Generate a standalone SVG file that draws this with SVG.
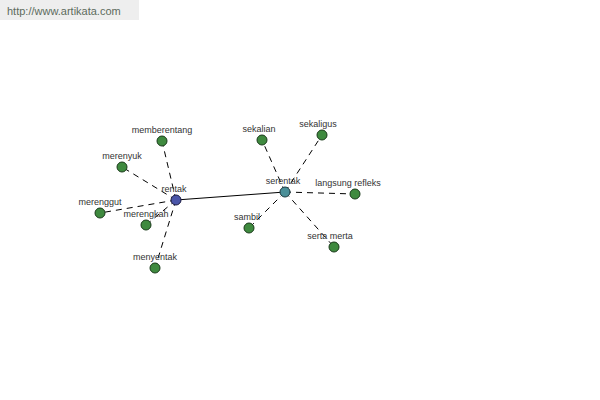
<svg xmlns="http://www.w3.org/2000/svg" width="600" height="400" viewBox="0 0 600 400">
<style>
text{font-family:"Liberation Sans",Arial,sans-serif;font-size:9px;fill:#333;text-anchor:middle}
.n{fill:#3f8a3f;stroke:#1a3a1a;stroke-width:1}
.d{stroke:#000;stroke-width:1;stroke-dasharray:6,5;fill:none}
</style>
<rect width="600" height="400" fill="#fff"/>
<rect x="0" y="0" width="139" height="20" fill="#eeeeee"/>
<text x="7" y="15" style="text-anchor:start;font-size:11px;fill:#5d6b5d">http://www.artikata.com</text>
<g id="connectors">
<line class="d" x1="176" y1="200" x2="162" y2="141"/>
<line class="d" x1="176" y1="200" x2="122" y2="167"/>
<line class="d" x1="176" y1="200" x2="100" y2="213"/>
<line class="d" x1="176" y1="200" x2="146" y2="225"/>
<line class="d" x1="176" y1="200" x2="155" y2="268"/>
<line x1="176" y1="200" x2="285" y2="192" stroke="#000" stroke-width="1"/>
<line class="d" x1="285" y1="192" x2="262" y2="140"/>
<line class="d" x1="285" y1="192" x2="322" y2="135"/>
<line class="d" x1="285" y1="192" x2="355" y2="194"/>
<line class="d" x1="285" y1="192" x2="334" y2="247"/>
<line class="d" x1="285" y1="192" x2="249" y2="228"/>
</g>
<g id="memberentang"><circle class="n" cx="162" cy="141" r="5"/><text x="162" y="133">memberentang</text></g>
<g id="merenyuk"><circle class="n" cx="122" cy="167" r="5"/><text x="122" y="159">merenyuk</text></g>
<g id="merenggut"><circle class="n" cx="100" cy="213" r="5"/><text x="100" y="205">merenggut</text></g>
<g id="merengkah"><circle class="n" cx="146" cy="225" r="5"/><text x="146" y="217">merengkah</text></g>
<g id="menyentak"><circle class="n" cx="155" cy="268" r="5"/><text x="155" y="260">menyentak</text></g>
<g id="rentak"><circle cx="176" cy="200" r="5" fill="#4a55a8" stroke="#1a1a40"/><text x="174" y="192">rentak</text></g>
<g id="serentak"><circle cx="285" cy="192" r="5" fill="#4a8f98" stroke="#1a3a40"/><text x="283" y="184">serentak</text></g>
<g id="sekalian"><circle class="n" cx="262" cy="140" r="5"/><text x="259" y="132">sekalian</text></g>
<g id="sekaligus"><circle class="n" cx="322" cy="135" r="5"/><text x="318" y="127">sekaligus</text></g>
<g id="langsung-refleks"><circle class="n" cx="355" cy="194" r="5"/><text x="348" y="186">langsung refleks</text></g>
<g id="serta-merta"><circle class="n" cx="334" cy="247" r="5"/><text x="330" y="239">serta merta</text></g>
<g id="sambil"><circle class="n" cx="249" cy="228" r="5"/><text x="247" y="220">sambil</text></g>
</svg>
